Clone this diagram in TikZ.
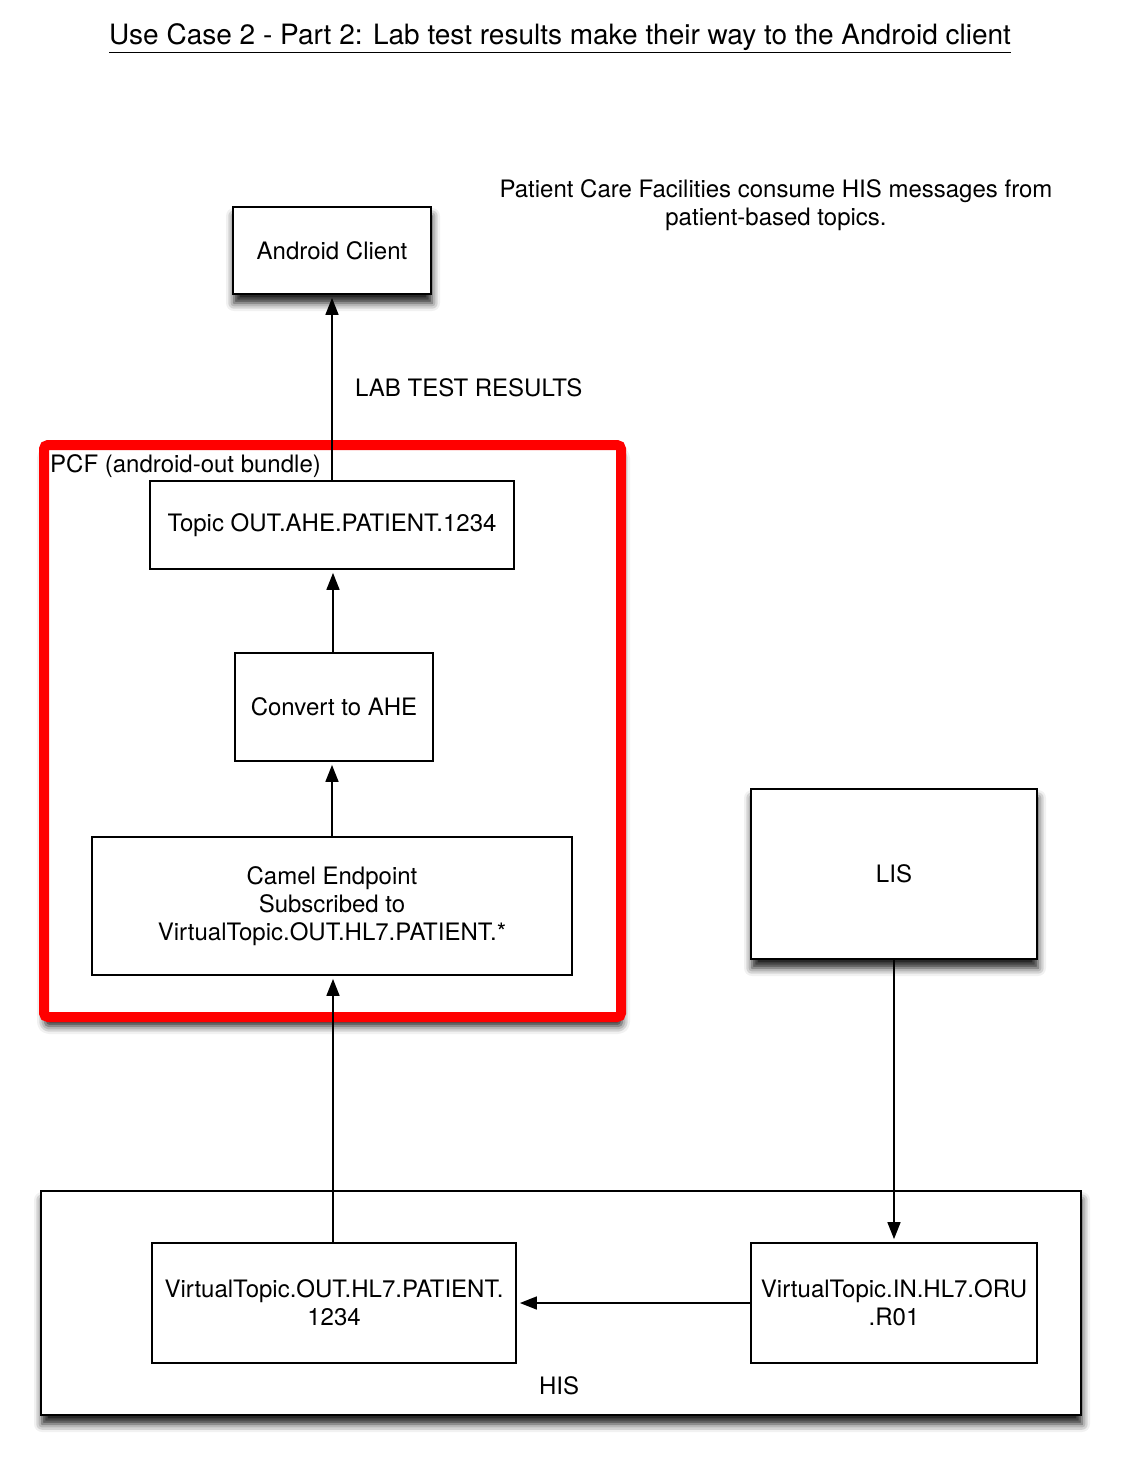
\documentclass[tikz,border=0pt]{standalone}
\usepackage{fontspec}
\setmainfont{TeX Gyre Heros}
\usetikzlibrary{arrows.meta,shadows.blur}
\begin{document}
\begin{tikzpicture}[x=1pt,y=-1pt,
  every node/.style={font=\fontsize{24}{28}\selectfont},
  box/.style={draw=black,line width=1.8pt,fill=white,rectangle,inner sep=0pt,align=center},
  shad/.style={blur shadow={shadow xshift=1pt,shadow yshift=-9pt,shadow blur radius=8pt,shadow opacity=90}},
  arr/.style={line width=1.6pt,-{Triangle[length=17pt,width=13pt]},shorten >=3pt},
  lbl/.style={inner sep=0pt}]
\useasboundingbox (0,0) rectangle (1120,1462);
% title
\node[lbl,font=\fontsize{28}{32}\selectfont] (title) at (560,38) {\underline{Use Case 2 - Part 2: Lab test results make their way to the Android client}};
\node[lbl,align=center] (note) at (776,205) {Patient Care Facilities consume HIS messages from\\patient-based topics.};
% PCF container
\node[draw=red,line width=10pt,rounded corners=4pt,fill=white,minimum width=577,minimum height=572,inner sep=0pt,shad] (pcf) at (332.5,731) {};
\node[lbl,anchor=west] (pcflbl) at (50,466) {PCF (android-out bundle)};
% HIS container
\node[box,shad,minimum width=1040,minimum height=224] (his) at (561,1303) {};
\node[lbl] (hislbl) at (559,1386) {HIS};
% boxes
\node[box,shad,minimum width=198,minimum height=87] (ac) at (332,250.5) {Android Client};
\node[box,minimum width=364,minimum height=88] (topic) at (332,525) {Topic OUT.AHE.PATIENT.1234};
\node[box,minimum width=198,minimum height=108] (conv) at (334,707) {Convert to AHE};
\node[box,minimum width=480,minimum height=138] (camel) at (332,906) {Camel Endpoint\\Subscribed to\\VirtualTopic.OUT.HL7.PATIENT.*};
\node[box,shad,minimum width=286,minimum height=170] (lis) at (894,874) {LIS};
\node[box,minimum width=364,minimum height=120] (vtout) at (334,1303) {VirtualTopic.OUT.HL7.PATIENT.\\1234};
\node[box,minimum width=286,minimum height=120] (vtin) at (894,1303) {VirtualTopic.IN.HL7.ORU\\.R01};
\node[lbl,anchor=west] (labres) at (355,388) {LAB TEST RESULTS};
% connectors
\draw[arr] (topic.north) -- (ac.south);
\draw[arr] ([xshift=-1pt]conv.north) -- ([xshift=-1pt]conv.north |- topic.south);
\draw[arr] (camel.north) -- (camel.north |- conv.south);
\draw[arr] ([xshift=-1pt]vtout.north) -- ([xshift=-1pt]vtout.north |- camel.south);
\draw[arr] (lis.south) -- (vtin.north);
\draw[arr] (vtin.west) -- (vtout.east);
\end{tikzpicture}
\end{document}
